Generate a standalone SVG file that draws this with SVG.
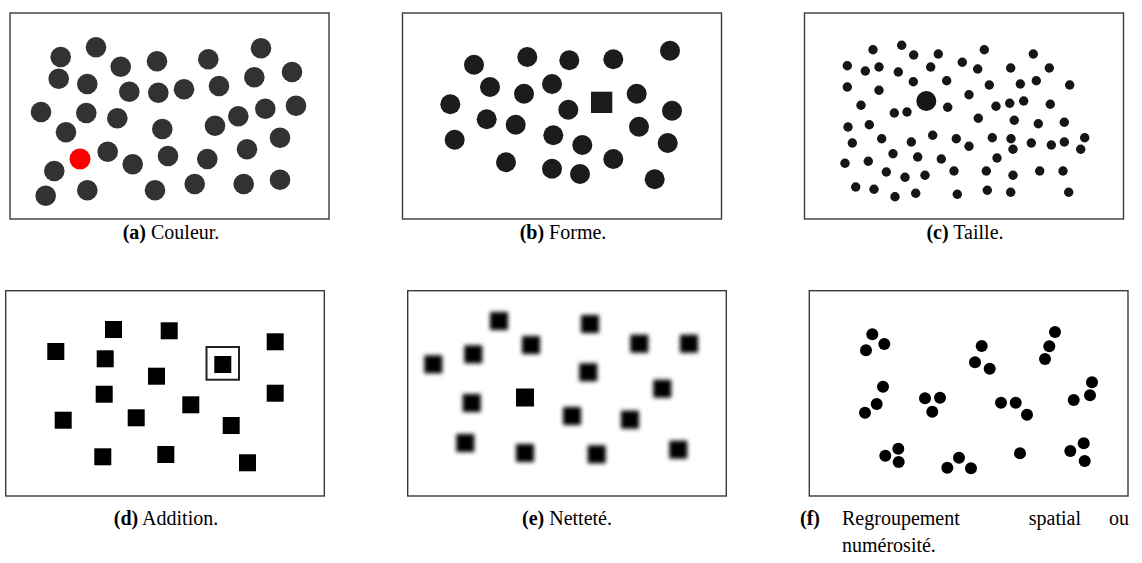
<svg xmlns="http://www.w3.org/2000/svg" width="1142" height="563" viewBox="0 0 1142 563">
<defs>
<style>
.frame{fill:#fff;stroke:#3a3a3a;stroke-width:1.4}
.ga circle{fill:#333}
.gb circle,.gb rect{fill:#1a1a1a}
.gc circle{fill:#131313}
.gd rect{fill:#000}
.ge rect{fill:#000}
.gf circle{fill:#000}
.cap{font-family:"Liberation Serif","DejaVu Serif",serif;font-size:20px;fill:#000}
.lab{font-weight:bold}
</style>
<filter id="soft" x="-20%" y="-20%" width="140%" height="140%"><feGaussianBlur stdDeviation="0.6"/></filter>
<filter id="blur" x="-50%" y="-50%" width="200%" height="200%"><feGaussianBlur stdDeviation="2.3"/></filter>
</defs>
<rect width="1142" height="563" fill="#fff"/>

<g id="panel-a">
<rect class="frame" x="10" y="13" width="319" height="206"/>
<g class="ga" filter="url(#soft)">
<circle cx="60.7" cy="57" r="10.3"/><circle cx="96" cy="47.3" r="10.3"/><circle cx="120.7" cy="66.7" r="10.3"/><circle cx="157" cy="61.3" r="10.3"/><circle cx="208.3" cy="59.3" r="10.3"/><circle cx="261" cy="48.3" r="10.3"/>
<circle cx="58.7" cy="78.7" r="10.3"/><circle cx="87.3" cy="84" r="10.3"/><circle cx="129.3" cy="91.7" r="10.3"/><circle cx="158.3" cy="92.7" r="10.3"/><circle cx="184" cy="89.3" r="10.3"/><circle cx="219" cy="86" r="10.3"/><circle cx="254.3" cy="77.3" r="10.3"/><circle cx="292" cy="72" r="10.3"/>
<circle cx="41" cy="112" r="10.3"/><circle cx="86.3" cy="113" r="10.3"/><circle cx="117.3" cy="118.3" r="10.3"/><circle cx="66" cy="132.3" r="10.3"/><circle cx="162.3" cy="129" r="10.3"/><circle cx="215" cy="125.7" r="10.3"/><circle cx="238.3" cy="116.3" r="10.3"/><circle cx="265.3" cy="108.7" r="10.3"/><circle cx="296" cy="105.7" r="10.3"/><circle cx="280" cy="137.7" r="10.3"/>
<circle cx="107.7" cy="151.7" r="10.3"/><circle cx="132.7" cy="164.3" r="10.3"/><circle cx="168" cy="156" r="10.3"/><circle cx="207.3" cy="159" r="10.3"/><circle cx="247" cy="149.3" r="10.3"/>
<circle cx="54.3" cy="171" r="10.3"/><circle cx="87.3" cy="190.3" r="10.3"/><circle cx="155" cy="190.3" r="10.3"/><circle cx="194.7" cy="184" r="10.3"/><circle cx="243.7" cy="184" r="10.3"/><circle cx="280" cy="179.7" r="10.3"/><circle cx="45.7" cy="195.7" r="10.3"/>
<circle cx="80" cy="159" r="10.5" style="fill:#ff0000"/>
</g>
</g>

<g id="panel-b">
<rect class="frame" x="402.5" y="13" width="319" height="206"/>
<g class="gb" filter="url(#soft)">
<circle cx="474" cy="64.7" r="10"/><circle cx="527.3" cy="57" r="10"/><circle cx="569.3" cy="60.3" r="10"/><circle cx="613.3" cy="59.3" r="10"/><circle cx="670" cy="50.7" r="10"/>
<circle cx="490" cy="87" r="10"/><circle cx="524" cy="93.7" r="10"/><circle cx="552" cy="84" r="10"/><circle cx="636.7" cy="93.7" r="10"/>
<circle cx="450.3" cy="104.3" r="10"/><circle cx="486.7" cy="119.3" r="10"/><circle cx="515.7" cy="124.7" r="10"/><circle cx="568.3" cy="109.7" r="10"/><circle cx="672" cy="110.7" r="10"/><circle cx="639" cy="126.7" r="10"/>
<circle cx="454.7" cy="139.7" r="10"/><circle cx="553.3" cy="135.3" r="10"/><circle cx="582.3" cy="145" r="10"/><circle cx="667.7" cy="143" r="10"/>
<circle cx="506" cy="162.3" r="10"/><circle cx="552" cy="168.7" r="10"/><circle cx="580" cy="174" r="10"/><circle cx="613.3" cy="159" r="10"/><circle cx="654.7" cy="179.3" r="10"/>
<rect x="591" y="91.7" width="21.3" height="21.3"/>
</g>
</g>

<g id="panel-c">
<rect class="frame" x="804.5" y="13" width="319" height="206"/>
<g class="gc" filter="url(#soft)">
<circle cx="926.3" cy="101" r="10"/>
<circle cx="873" cy="49.7" r="4.7"/><circle cx="901.7" cy="45.3" r="4.7"/><circle cx="913.7" cy="55" r="4.7"/><circle cx="938.3" cy="54" r="4.7"/><circle cx="984.3" cy="49.7" r="4.7"/><circle cx="1033.3" cy="54" r="4.7"/>
<circle cx="847.3" cy="65.7" r="4.7"/><circle cx="865.3" cy="71" r="4.7"/><circle cx="879" cy="67" r="4.7"/><circle cx="898.3" cy="72" r="4.7"/><circle cx="930.7" cy="67" r="4.7"/><circle cx="962.3" cy="62.3" r="4.7"/><circle cx="977.7" cy="69" r="4.7"/><circle cx="1010.7" cy="68" r="4.7"/><circle cx="1049.3" cy="68" r="4.7"/>
<circle cx="847.3" cy="87" r="4.7"/><circle cx="879" cy="90.3" r="4.7"/><circle cx="913.3" cy="81.7" r="4.7"/><circle cx="946.7" cy="80.7" r="4.7"/><circle cx="989.3" cy="85" r="4.7"/><circle cx="1020.3" cy="84" r="4.7"/><circle cx="1036.3" cy="80.7" r="4.7"/><circle cx="1069.7" cy="85" r="4.7"/>
<circle cx="861" cy="105.3" r="4.7"/><circle cx="969" cy="94.7" r="4.7"/><circle cx="947.7" cy="107.3" r="4.7"/><circle cx="996" cy="106.3" r="4.7"/><circle cx="1009.7" cy="103.3" r="4.7"/><circle cx="1023.7" cy="101" r="4.7"/><circle cx="1050.3" cy="104.3" r="4.7"/>
<circle cx="894.3" cy="113" r="4.7"/><circle cx="907" cy="112" r="4.7"/><circle cx="978.3" cy="118.3" r="4.7"/><circle cx="1014.3" cy="120.3" r="4.7"/><circle cx="1038.3" cy="123.7" r="4.7"/><circle cx="1064.3" cy="122.3" r="4.7"/>
<circle cx="848" cy="127" r="4.7"/><circle cx="869.3" cy="124.7" r="4.7"/>
<circle cx="852.3" cy="143" r="4.7"/><circle cx="881.7" cy="138.7" r="4.7"/><circle cx="911.3" cy="142" r="4.7"/><circle cx="932.7" cy="135.3" r="4.7"/><circle cx="956.3" cy="138.7" r="4.7"/><circle cx="969" cy="146.3" r="4.7"/><circle cx="992.3" cy="137.7" r="4.7"/><circle cx="1011" cy="138.7" r="4.7"/><circle cx="1031.3" cy="143" r="4.7"/><circle cx="1051.3" cy="145" r="4.7"/><circle cx="1064.3" cy="142" r="4.7"/><circle cx="1084.7" cy="137.7" r="4.7"/>
<circle cx="1013" cy="149.3" r="4.7"/><circle cx="1080.7" cy="149.3" r="4.7"/>
<circle cx="893" cy="153.7" r="4.7"/><circle cx="917.7" cy="157" r="4.7"/><circle cx="941.3" cy="159" r="4.7"/><circle cx="997" cy="158" r="4.7"/>
<circle cx="845" cy="163.3" r="4.7"/><circle cx="868.3" cy="161.3" r="4.7"/>
<circle cx="886.3" cy="172" r="4.7"/><circle cx="905" cy="177.3" r="4.7"/><circle cx="925" cy="175.3" r="4.7"/><circle cx="954" cy="171" r="4.7"/><circle cx="986.3" cy="171" r="4.7"/><circle cx="1013" cy="175.3" r="4.7"/><circle cx="1039.7" cy="171" r="4.7"/><circle cx="1063" cy="171" r="4.7"/>
<circle cx="855.7" cy="187" r="4.7"/><circle cx="874" cy="189.3" r="4.7"/><circle cx="895" cy="196.7" r="4.7"/><circle cx="915.7" cy="193.3" r="4.7"/><circle cx="957.3" cy="194.3" r="4.7"/><circle cx="987.3" cy="190.3" r="4.7"/><circle cx="1010.7" cy="192.3" r="4.7"/><circle cx="1068.7" cy="192.3" r="4.7"/>
</g>
</g>

<g id="panel-d">
<rect class="frame" x="5.7" y="290.7" width="318.6" height="205.3"/>
<g class="gd">
<rect x="105" y="321" width="17" height="17"/><rect x="160.7" y="322.3" width="17" height="17"/><rect x="266.7" y="333.3" width="17" height="17"/><rect x="47.3" y="343" width="17" height="17"/><rect x="96.7" y="350.3" width="17" height="17"/>
<rect x="214.3" y="356" width="17" height="17"/>
<rect x="148" y="367.7" width="17" height="17"/><rect x="95.7" y="385.7" width="17" height="17"/><rect x="266.7" y="384.7" width="17" height="17"/><rect x="182.3" y="396.3" width="17" height="17"/><rect x="54.7" y="411.7" width="17" height="17"/><rect x="127.7" y="409.3" width="17" height="17"/><rect x="222.7" y="417" width="17" height="17"/>
<rect x="94.3" y="448.3" width="17" height="17"/><rect x="157.3" y="446" width="17" height="17"/><rect x="239" y="454.3" width="17" height="17"/>
</g>
<rect x="206.5" y="347" width="32.5" height="32.7" fill="none" stroke="#222" stroke-width="2"/>
</g>

<g id="panel-e">
<rect class="frame" x="407.7" y="290.7" width="318.6" height="205.3"/>
<g class="ge" filter="url(#blur)">
<rect x="490" y="312" width="18" height="18"/><rect x="581" y="315" width="18" height="18"/><rect x="522" y="336" width="18" height="18"/><rect x="630.3" y="334.7" width="18" height="18"/><rect x="680" y="334.7" width="18" height="18"/>
<rect x="464.3" y="345.3" width="18" height="18"/><rect x="424.3" y="355.3" width="18" height="18"/><rect x="579.3" y="363.3" width="18" height="18"/><rect x="653.3" y="379.7" width="18" height="18"/>
<rect x="462.7" y="394" width="18" height="18"/><rect x="563" y="407" width="18" height="18"/><rect x="621" y="410.7" width="18" height="18"/>
<rect x="456.3" y="434" width="18" height="18"/><rect x="516" y="444" width="18" height="18"/><rect x="587.7" y="445.3" width="18" height="18"/><rect x="669.3" y="440.7" width="18" height="18"/>
</g>
<rect x="516" y="388.5" width="18" height="18" fill="#000"/>
</g>

<g id="panel-f">
<rect class="frame" x="809.3" y="290.7" width="318.7" height="205.3"/>
<g class="gf" filter="url(#soft)">
<circle cx="872.3" cy="334.3" r="6"/><circle cx="884.3" cy="344" r="6"/><circle cx="866" cy="350.3" r="6"/>
<circle cx="981.7" cy="346" r="6"/><circle cx="975" cy="362.3" r="6"/><circle cx="989.7" cy="368.7" r="6"/>
<circle cx="1055" cy="332" r="6"/><circle cx="1049.3" cy="346.3" r="6"/><circle cx="1045" cy="359" r="6"/>
<circle cx="883" cy="386.7" r="6"/><circle cx="876.7" cy="404" r="6"/><circle cx="865" cy="412.7" r="6"/>
<circle cx="925" cy="398.3" r="6"/><circle cx="940" cy="397.7" r="6"/><circle cx="932.3" cy="411.7" r="6"/>
<circle cx="1001" cy="402.7" r="6"/><circle cx="1015.7" cy="402.7" r="6"/><circle cx="1027" cy="414.7" r="6"/>
<circle cx="1092" cy="382.3" r="6"/><circle cx="1090" cy="395.3" r="6"/><circle cx="1073.7" cy="400" r="6"/>
<circle cx="898.3" cy="448.7" r="6"/><circle cx="885.3" cy="455.7" r="6"/><circle cx="898.7" cy="462" r="6"/>
<circle cx="959" cy="457.7" r="6"/><circle cx="947.3" cy="467.7" r="6"/><circle cx="971" cy="468.3" r="6"/>
<circle cx="1020" cy="453.3" r="6"/>
<circle cx="1083.7" cy="443.3" r="6"/><circle cx="1070.3" cy="451" r="6"/><circle cx="1084.7" cy="461" r="6"/>
</g>
</g>

<g id="captions" class="cap">
<text x="171" y="239" text-anchor="middle"><tspan class="lab">(a)</tspan> Couleur.</text>
<text x="563" y="239" text-anchor="middle"><tspan class="lab">(b)</tspan> Forme.</text>
<text x="965" y="239" text-anchor="middle"><tspan class="lab">(c)</tspan> Taille.</text>
<text x="166" y="525" text-anchor="middle"><tspan class="lab">(d)</tspan> Addition.</text>
<text x="567" y="525" text-anchor="middle"><tspan class="lab">(e)</tspan> Netteté.</text>
<text x="800" y="525"><tspan class="lab">(f)</tspan></text>
<text x="842" y="525">Regroupement</text>
<text x="1081" y="525" text-anchor="end">spatial</text>
<text x="1129" y="525" text-anchor="end">ou</text>
<text x="842" y="552">numérosité.</text>
</g>
</svg>
